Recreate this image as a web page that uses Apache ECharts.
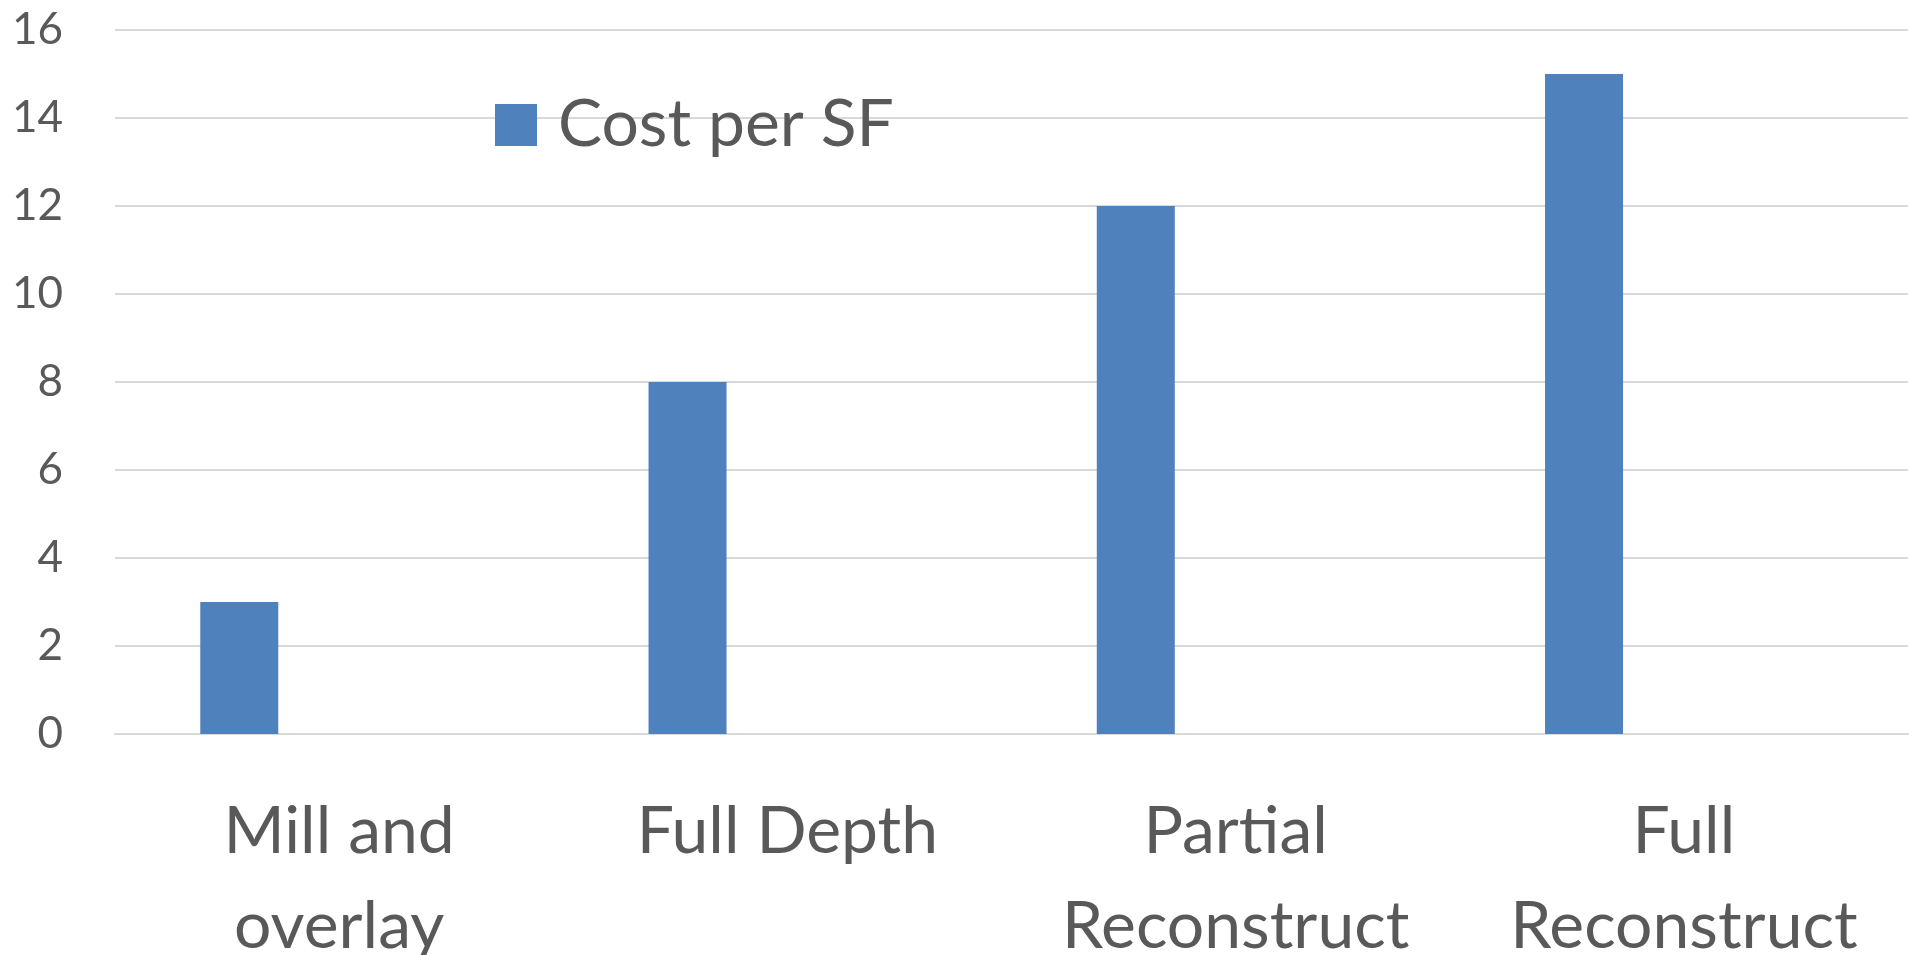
<!DOCTYPE html>
<html>
<head>
<meta charset="utf-8">
<title>Cost per SF</title>
<script src="https://cdn.jsdelivr.net/npm/echarts@6/dist/echarts.min.js"></script>
<style>
  html, body { margin: 0; padding: 0; background: #ffffff; }
  #chart { width: 1915px; height: 955px; }
</style>
</head>
<body>
<div id="chart"></div>
<script>
// Pavement treatment options and their cost per square foot
const categories = ['Mill and\noverlay', 'Full Depth', 'Partial\nReconstruct', 'Full\nReconstruct'];
const costPerSF = [3, 8, 12, 15];
const seriesName = 'Cost per SF';
const yTicks = { min: 0, max: 16, interval: 2 };

const textColor = '#595959';
const gridColor = '#D9D9D9';
const barColor = '#4F81BD';
const fontFamily = 'Lato, "Open Sans", sans-serif';

const chart = echarts.init(document.getElementById('chart'), null, { renderer: 'canvas' });

chart.setOption({
  backgroundColor: '#ffffff',
  animation: false,
  grid: {
    left: 115, right: 7, top: 30, bottom: 221,
    containLabel: false,
    outerBoundsMode: 'none'
  },
  legend: {
    data: [seriesName],
    left: 495,
    top: 92,
    padding: 0,
    itemWidth: 42,
    itemHeight: 42,
    icon: 'rect',
    textStyle: { color: textColor, fontSize: 66, fontFamily: fontFamily, padding: [0, 0, 0, 16] }
  },
  xAxis: {
    type: 'category',
    data: categories,
    axisLine: { show: true, lineStyle: { color: gridColor, width: 2 } },
    axisTick: { show: false },
    axisLabel: {
      color: textColor,
      fontSize: 66,
      fontFamily: fontFamily,
      lineHeight: 95,
      margin: 50,
      interval: 0
    }
  },
  yAxis: {
    type: 'value',
    min: yTicks.min,
    max: yTicks.max,
    interval: yTicks.interval,
    axisLine: { show: false },
    axisTick: { show: false },
    splitLine: { lineStyle: { color: gridColor, width: 2 } },
    axisLabel: { color: textColor, fontSize: 44, fontFamily: fontFamily, margin: 52 }
  },
  series: [
    {
      name: seriesName,
      type: 'bar',
      data: costPerSF,
      barWidth: 78,
      barGap: '156%',
      itemStyle: { color: barColor }
    },
    {
      // empty companion series that holds the second slot in each category
      name: '',
      type: 'bar',
      data: [],
      barWidth: 78
    }
  ]
});
</script>
</body>
</html>
